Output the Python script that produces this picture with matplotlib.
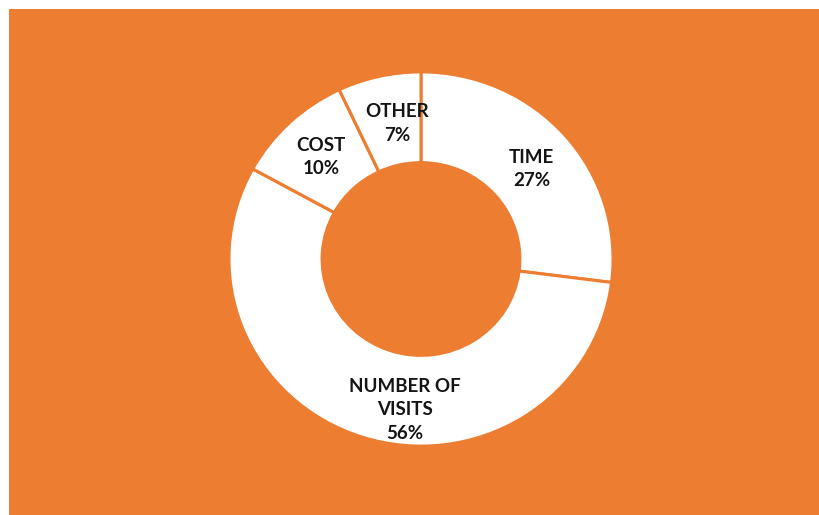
import numpy as np
import matplotlib.pyplot as plt

# donut data, clockwise from 12 o'clock
labels = ["TIME", "NUMBER OF\nVISITS", "COST", "OTHER"]
shares = [27, 56, 10, 7]

ORANGE = "#ED7D31"
W, H, DPI = 819, 515, 100

fig = plt.figure(figsize=(W / DPI, H / DPI), dpi=DPI, facecolor="white")

# orange panel, with a thin white strip left and top
bg = fig.add_axes([9 / W, 0, (W - 9) / W, (H - 9) / H])
bg.set_facecolor(ORANGE)
bg.set_xticks([])
bg.set_yticks([])
for s in bg.spines.values():
    s.set_visible(False)

# axes for the ring, centred at pixel (421, 259); slightly wider than tall
cx, cy, hx, hy = 421, 259, 194, 189
ax = fig.add_axes([(cx - hx) / W, (H - cy - hy) / H, 2 * hx / W, 2 * hy / H])
ax.set_facecolor("none")
ax.axis("off")

R = 0.99
wedges, _ = ax.pie(shares, startangle=90, counterclock=False, radius=R,
                   colors=["white"] * len(shares),
                   wedgeprops=dict(width=R * 0.485, edgecolor=ORANGE, linewidth=2.2))
ax.set_aspect("auto")
ax.set_xlim(-1, 1)
ax.set_ylim(-1, 1)

# label placement: ring middle, small angular nudges like the office default
nudge = [-1.5, 12, 0.5, -3]
rad = [0.75, 0.81, 0.755, 0.735]
for w, lab, pct, dn, r in zip(wedges, labels, shares, nudge, rad):
    ang = np.deg2rad((w.theta1 + w.theta2) / 2 + dn)
    ax.text(r * R * np.cos(ang), r * R * np.sin(ang), f"{lab}\n{pct}%",
            ha="center", va="center", fontsize=13.5, fontweight="bold",
            family="Lato", color="#141414", linespacing=1.45)

fig.savefig("out.png", dpi=DPI, facecolor=fig.get_facecolor())
